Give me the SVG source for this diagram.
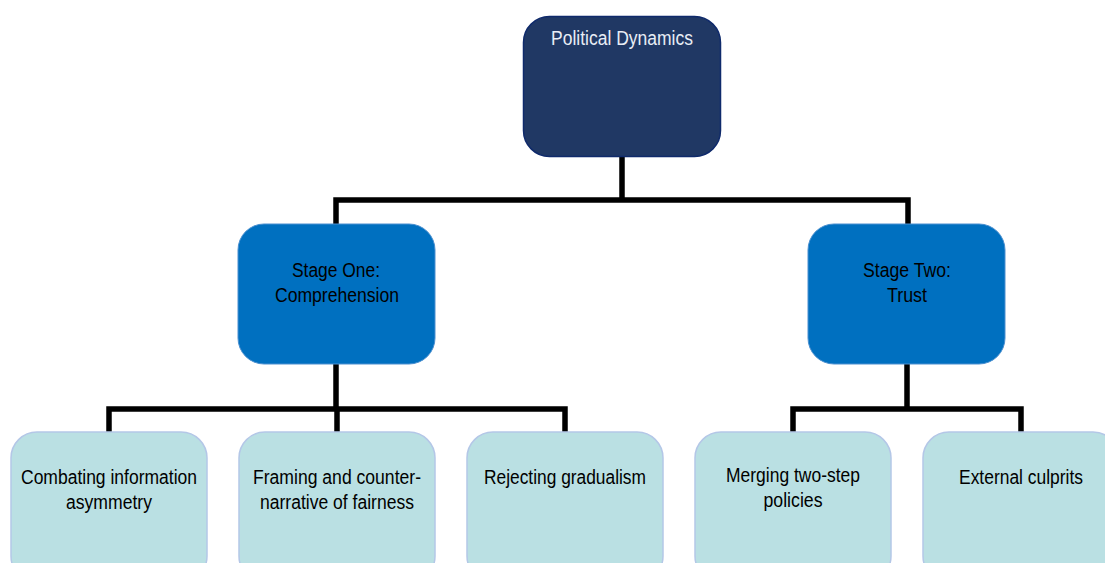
<svg xmlns="http://www.w3.org/2000/svg" width="1105" height="563" viewBox="0 0 1105 563">
<style>
.t{font-family:"Liberation Sans",Arial,sans-serif;font-size:20px;text-anchor:middle}
.root{fill:#203864;stroke:#0F2A6B;stroke-width:1.5}
.stage{fill:#0070C0;stroke:#4A8FD0;stroke-width:1}
.leaf{fill:#BAE0E3;stroke:#B4C7E7;stroke-width:1.5}
.c{fill:none;stroke:#000;stroke-width:5.5;stroke-linejoin:miter}
</style>
<rect width="1105" height="563" fill="#fff"/>
<g id="connectors">
<path class="c" d="M622 156 V200 M336 224 V200 H908 V224"/>
<path class="c" d="M336 364 V409 M109 432 V409 H565 V432 M337 409 V432"/>
<path class="c" d="M907 364 V409 M793 432 V409 H1021 V432"/>
</g>
<g id="root">
<rect class="root" x="523.5" y="16.5" width="197" height="140" rx="26"/>
<text class="t" x="622" y="45" fill="#E8EDF5" textLength="142" lengthAdjust="spacingAndGlyphs">Political Dynamics</text>
</g>
<g id="stage1">
<rect class="stage" x="238" y="224" width="197" height="140" rx="26"/>
<text class="t" x="336" y="277" fill="#000" textLength="88" lengthAdjust="spacingAndGlyphs">Stage One:</text>
<text class="t" x="337" y="302" fill="#000" textLength="124" lengthAdjust="spacingAndGlyphs">Comprehension</text>
</g>
<g id="stage2">
<rect class="stage" x="808" y="224" width="197" height="140" rx="26"/>
<text class="t" x="907" y="277" fill="#000" textLength="88" lengthAdjust="spacingAndGlyphs">Stage Two:</text>
<text class="t" x="907" y="302" fill="#000" textLength="40" lengthAdjust="spacingAndGlyphs">Trust</text>
</g>
<g id="leaf1">
<rect class="leaf" x="11" y="432" width="196" height="150" rx="26"/>
<text class="t" x="109" y="484" fill="#000" textLength="176" lengthAdjust="spacingAndGlyphs">Combating information</text>
<text class="t" x="109" y="509" fill="#000" textLength="86" lengthAdjust="spacingAndGlyphs">asymmetry</text>
</g>
<g id="leaf2">
<rect class="leaf" x="239" y="432" width="196" height="150" rx="26"/>
<text class="t" x="337" y="484" fill="#000" textLength="168" lengthAdjust="spacingAndGlyphs">Framing and counter-</text>
<text class="t" x="337" y="509" fill="#000" textLength="154" lengthAdjust="spacingAndGlyphs">narrative of fairness</text>
</g>
<g id="leaf3">
<rect class="leaf" x="467" y="432" width="196" height="150" rx="26"/>
<text class="t" x="565" y="484" fill="#000" textLength="162" lengthAdjust="spacingAndGlyphs">Rejecting gradualism</text>
</g>
<g id="leaf4">
<rect class="leaf" x="695" y="432" width="196" height="150" rx="26"/>
<text class="t" x="793" y="482" fill="#000" textLength="134" lengthAdjust="spacingAndGlyphs">Merging two-step</text>
<text class="t" x="793" y="507" fill="#000" textLength="59" lengthAdjust="spacingAndGlyphs">policies</text>
</g>
<g id="leaf5">
<rect class="leaf" x="923" y="432" width="196" height="150" rx="26"/>
<text class="t" x="1021" y="484" fill="#000" textLength="124" lengthAdjust="spacingAndGlyphs">External culprits</text>
</g>
</svg>
